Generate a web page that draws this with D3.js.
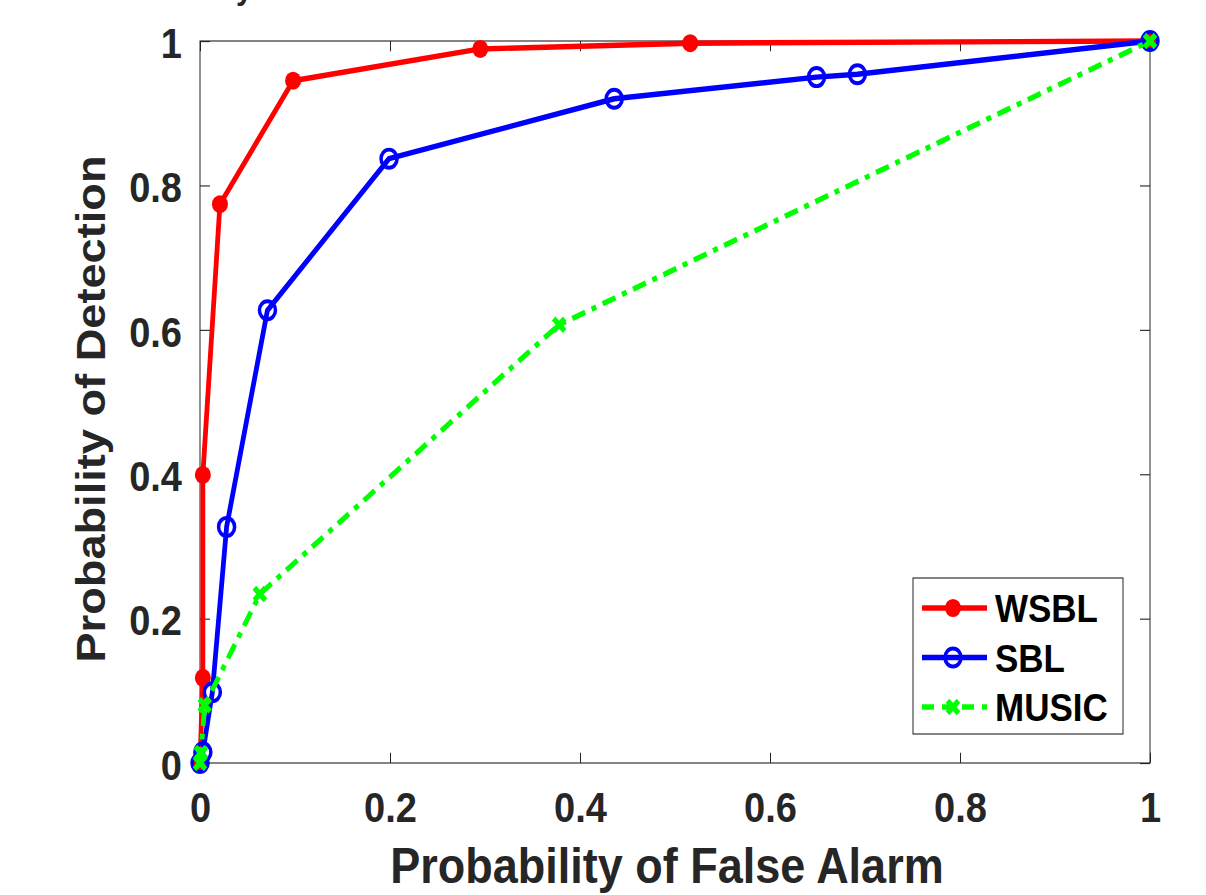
<!DOCTYPE html>
<html>
<head>
<meta charset="utf-8">
<script src="https://cdn.jsdelivr.net/npm/d3@7"></script>
<style>
  body { margin: 0; background: #fff; }
  svg { display: block; font-family: "Liberation Sans", Arial, sans-serif; }
  .axis text { font-size: 38px; font-weight: bold; fill: #262626; }
  .axis path, .axis line { stroke: #262626; }
</style>
</head>
<body>
<svg id="chart"></svg>
<script>
'use strict';

var xTicks = [0, 0.2, 0.4, 0.6, 0.8, 1];
var yTicks = [0, 0.2, 0.4, 0.6, 0.8, 1];

var wsblPfa = [0, 0.003, 0.003, 0.021, 0.098, 0.295, 0.516, 1];
var wsblPd  = [0, 0.118, 0.399, 0.774, 0.945, 0.989, 0.997, 1];

var sblPfa = [0, 0.003, 0.013, 0.028, 0.071, 0.199, 0.436, 0.649, 0.692, 1];
var sblPd  = [0, 0.015, 0.098, 0.327, 0.627, 0.837, 0.920, 0.950, 0.954, 1];

var musicPfa = [0, 0.001, 0.005, 0.063, 0.378, 1];
var musicPd  = [0, 0.014, 0.080, 0.234, 0.607, 1];

var seriesNames = ['WSBL', 'SBL', 'MUSIC'];

// the source figure is stretched vertically, so draw in a squashed frame and scale it back up
var SY = 1.13;
var WIDTH = 1206, HEIGHT = 895;
var PLOT = { left: 200, top: 41 / SY, right: 1150, bottom: 763 / SY };

var svg = d3.select('#chart')
  .attr('width', WIDTH)
  .attr('height', HEIGHT);

var root = svg.append('g').attr('transform', 'scale(1,' + SY + ')');

var x = d3.scaleLinear().domain([0, 1]).range([PLOT.left, PLOT.right]);
var y = d3.scaleLinear().domain([0, 1]).range([PLOT.bottom, PLOT.top]);

// cut-off title remnant at the very top
root.append('text')
  .attr('x', 236)
  .attr('y', -1)
  .style('font-size', '30px')
  .style('font-weight', 'bold')
  .style('fill', '#262626')
  .text('y');

// box
root.append('rect')
  .attr('x', PLOT.left)
  .attr('y', PLOT.top)
  .attr('width', PLOT.right - PLOT.left)
  .attr('height', PLOT.bottom - PLOT.top)
  .attr('fill', 'none')
  .attr('stroke', '#262626')
  .attr('stroke-width', 1);

// axes, ticks inside
root.append('g')
  .attr('class', 'x axis')
  .attr('transform', 'translate(0,' + PLOT.bottom + ')')
  .call(d3.axisBottom(x).tickValues(xTicks).tickSize(-9).tickPadding(25).tickFormat(d3.format('')))
  .call(function(g) { g.select('.domain').remove(); });

root.append('g')
  .attr('class', 'x axis')
  .attr('transform', 'translate(0,' + PLOT.top + ')')
  .call(d3.axisTop(x).tickValues(xTicks).tickSize(-9).tickFormat(''))
  .call(function(g) { g.select('.domain').remove(); });

root.append('g')
  .attr('class', 'y axis')
  .attr('transform', 'translate(' + PLOT.left + ',0)')
  .call(d3.axisLeft(y).tickValues(yTicks).tickSize(-10).tickPadding(18).tickFormat(d3.format('')))
  .call(function(g) { g.select('.domain').remove(); })
  .selectAll('text')
  .attr('dy', '0.38em');

root.append('g')
  .attr('class', 'y axis')
  .attr('transform', 'translate(' + PLOT.right + ',0)')
  .call(d3.axisRight(y).tickValues(yTicks).tickSize(-10).tickFormat(''))
  .call(function(g) { g.select('.domain').remove(); });

// axis titles
root.append('text')
  .attr('x', 667)
  .attr('y', 883 / SY)
  .attr('text-anchor', 'middle')
  .style('font-size', '45px')
  .style('font-weight', 'bold')
  .style('fill', '#262626')
  .text('Probability of False Alarm');

root.append('text')
  .attr('transform', 'translate(105,' + (409 / SY) + ') rotate(-90)')
  .attr('text-anchor', 'middle')
  .style('font-size', '40px')
  .style('font-weight', 'bold')
  .style('fill', '#262626')
  .text('Probability of Detection');

function zip(xs, ys) {
  return xs.map(function(v, i) { return [v, ys[i]]; });
}

var line = d3.line()
  .x(function(d) { return x(d[0]); })
  .y(function(d) { return y(d[1]); });

var series = [
  { name: seriesNames[0], data: zip(wsblPfa, wsblPd), color: '#ff0000', dash: null, marker: 'dot' },
  { name: seriesNames[1], data: zip(sblPfa, sblPd), color: '#0000ff', dash: null, marker: 'circle' },
  { name: seriesNames[2], data: zip(musicPfa, musicPd), color: '#00ff00', dash: '14,7,5,7', marker: 'cross' }
];

function drawMarker(g, type, color) {
  if (type === 'dot') {
    g.append('circle').attr('r', 8).attr('fill', color);
  } else if (type === 'circle') {
    g.append('circle').attr('r', 8).attr('fill', 'none').attr('stroke', color).attr('stroke-width', 3.5);
  } else {
    g.append('path').attr('d', 'M-5.5,-5.5L5.5,5.5M-5.5,5.5L5.5,-5.5')
      .attr('stroke', color).attr('stroke-width', 5).attr('fill', 'none');
  }
}

var plot = root.append('g');

series.forEach(function(s) {
  var g = plot.append('g');
  g.append('path')
    .datum(s.data)
    .attr('d', line)
    .attr('fill', 'none')
    .attr('stroke', s.color)
    .attr('stroke-width', 4.8)
    .attr('stroke-linejoin', 'round')
    .attr('stroke-dasharray', s.dash);

  g.selectAll('g.mk')
    .data(s.data)
    .enter()
    .append('g')
    .attr('class', 'mk')
    .attr('transform', function(d) { return 'translate(' + x(d[0]) + ',' + y(d[1]) + ')'; })
    .each(function() { drawMarker(d3.select(this), s.marker, s.color); });
});

// legend
var legend = root.append('g').attr('transform', 'translate(913,' + (578 / SY) + ')');
legend.append('rect')
  .attr('width', 210)
  .attr('height', 156 / SY)
  .attr('fill', '#fff')
  .attr('stroke', '#262626')
  .attr('stroke-width', 1);

series.forEach(function(s, i) {
  var row = legend.append('g').attr('transform', 'translate(0,' + ((30 + i * 49.5) / SY) + ')');
  row.append('line')
    .attr('x1', 9).attr('x2', 74)
    .attr('stroke', s.color)
    .attr('stroke-width', 4.8)
    .attr('stroke-dasharray', s.dash ? '12,8' : null);
  drawMarker(row.append('g').attr('transform', 'translate(40,0)'), s.marker, s.color);
  row.append('text')
    .attr('x', 82)
    .attr('y', 12.5)
    .style('font-size', '35px')
    .style('font-weight', 'bold')
    .style('fill', '#000')
    .text(s.name);
});
</script>
</body>
</html>
